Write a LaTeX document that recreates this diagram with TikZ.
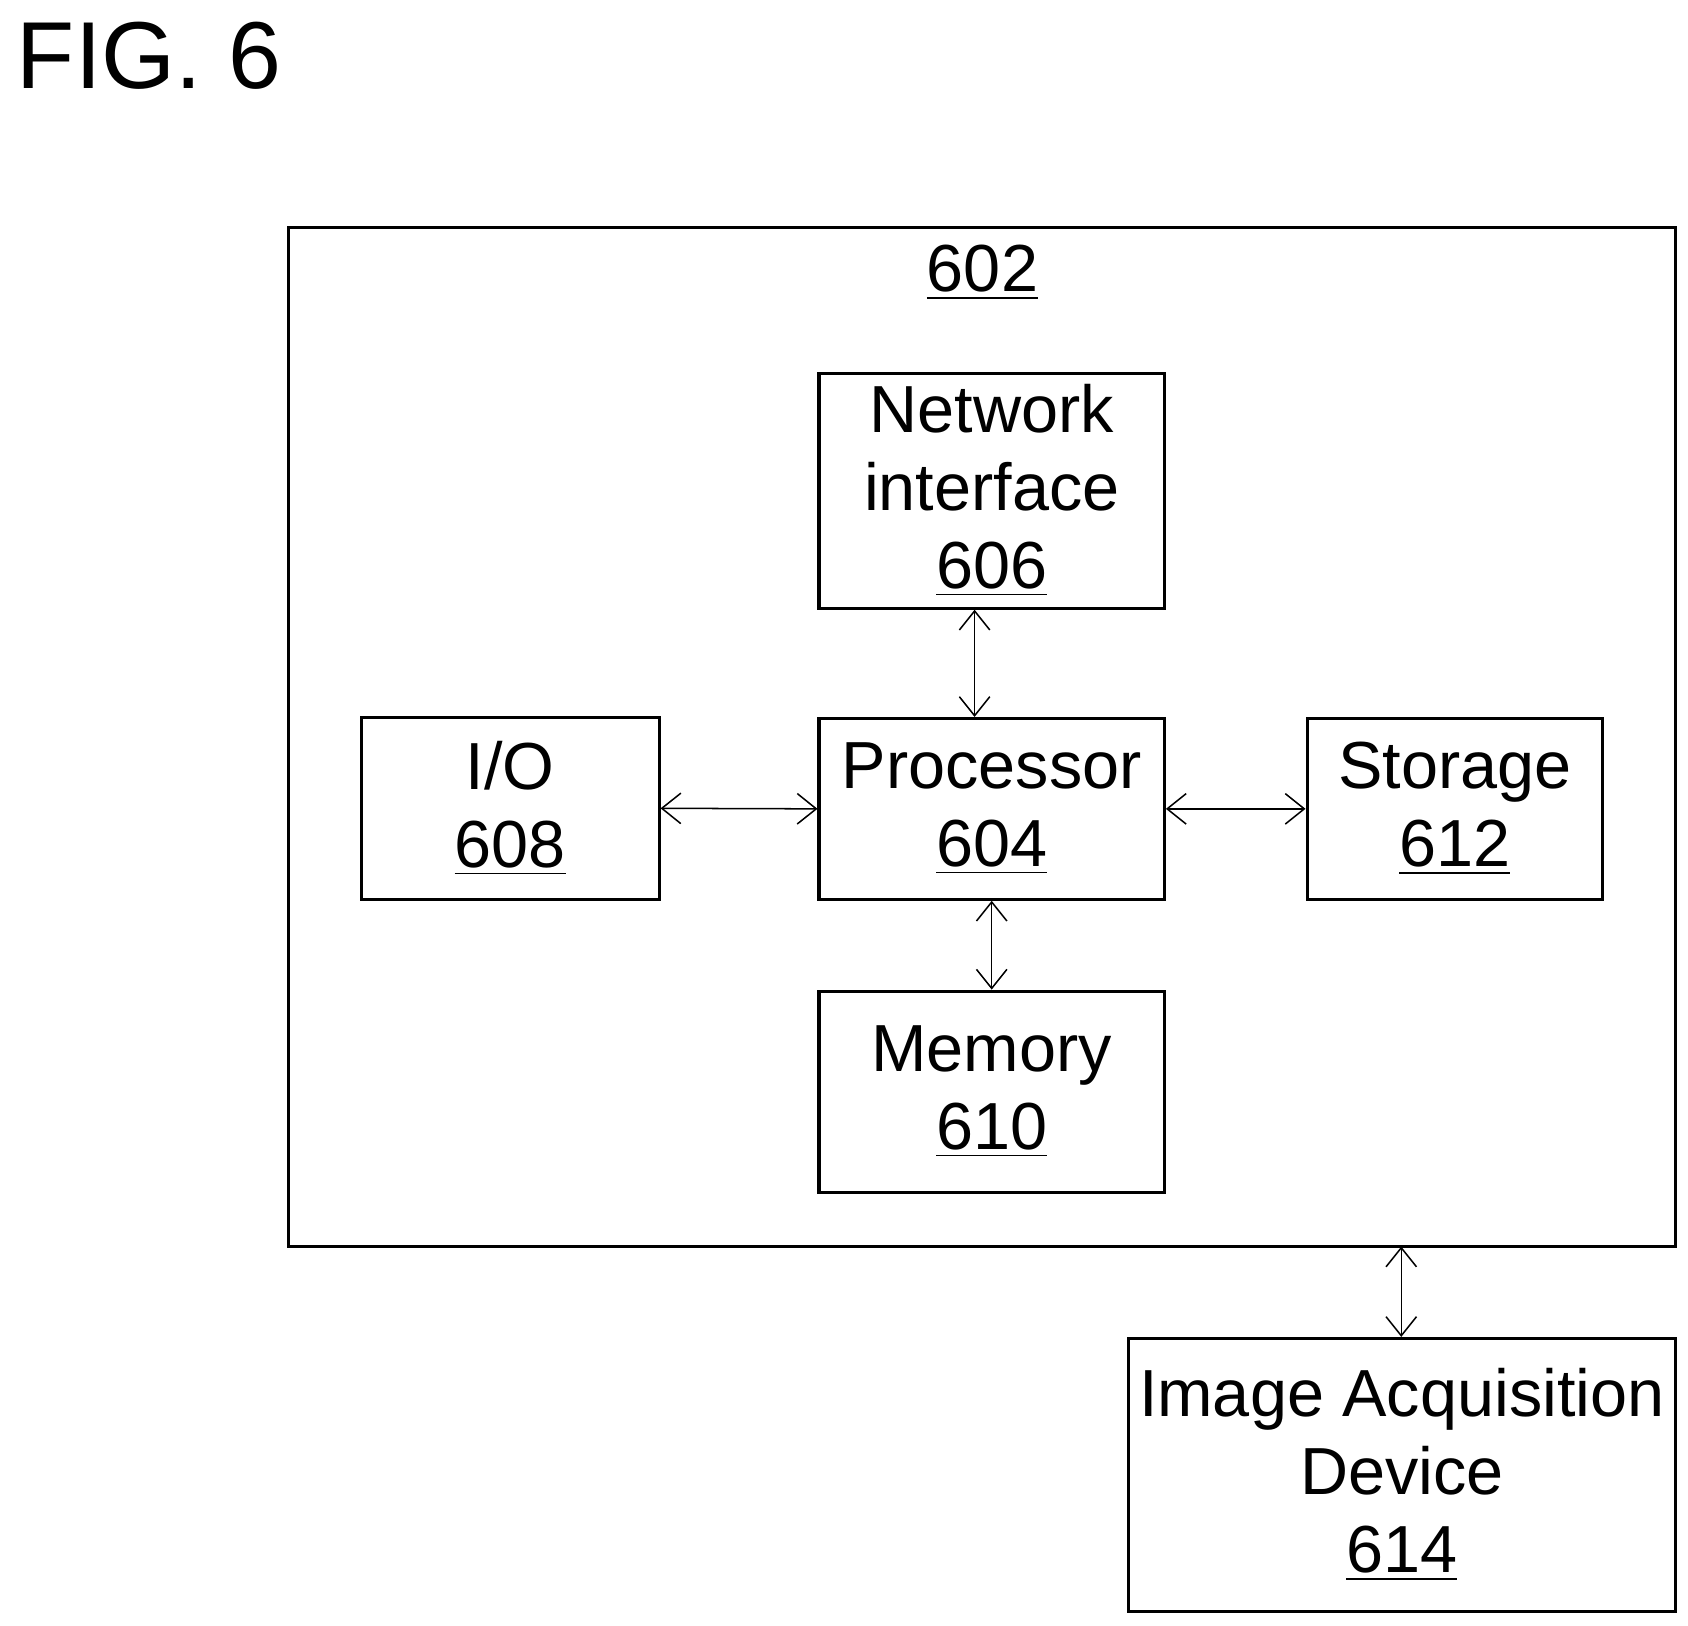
\documentclass[tikz,border=0pt]{standalone}
\usepackage{fontspec}
\setmainfont{Liberation Sans}
\usetikzlibrary{arrows.meta}
\begin{document}
\begin{tikzpicture}[x=0.01cm,y=-0.01cm,
    block/.style = {draw,thick,align=center,inner sep=0pt,
                    font=\fontsize{17.5}{20.5}\selectfont},
    link/.style = {thin,{Straight Barb[length=5pt,width=8pt]}-{Straight Barb[length=5pt,width=8pt]}}]
    \useasboundingbox (0,0) rectangle (1560,1502);
    \node[anchor=north west,inner sep=0pt,font=\fontsize{25}{30}\selectfont] (fig) at (15,20) {FIG. 6};

    \draw[thick] (267,210) rectangle (1548,1152);
    \coordinate (outerS) at (1295,1152);
    \node[font=\fontsize{17.5}{20.5}\selectfont] (lbl) at (908,252) {\underline{602}};

    \node[block,minimum width=3.19cm,minimum height=2.17cm] (net) at (916.5,453.5)
        {Network\\interface\\\underline{606}};
    \node[block,minimum width=3.19cm,minimum height=1.67cm] (proc) at (916.5,747.5)
        {Processor\\\underline{604}};
    \node[block,minimum width=2.75cm,minimum height=1.68cm] (io) at (471.5,747)
        {I/O\\\underline{608}};
    \node[block,minimum width=2.73cm,minimum height=1.67cm] (stor) at (1344.5,747.5)
        {Storage\\\underline{612}};
    \node[block,minimum width=3.19cm,minimum height=1.86cm] (mem) at (916.5,1009)
        {Memory\\\underline{610}};
    \node[block,minimum width=5.05cm,minimum height=2.52cm] (ia) at (1295.5,1363)
        {Image Acquisition\\Device\\\underline{614}};

    \draw[link] ([xshift=-4.5]net.south) -- ([xshift=-4.5]proc.north);
    \draw[link] (proc.south) -- (mem.north);
    \draw[link] (io.east) -- (proc.west);
    \draw[link] (proc.east) -- (stor.west);
    \draw[link] (outerS) -- (ia.north -| outerS);
\end{tikzpicture}
\end{document}
